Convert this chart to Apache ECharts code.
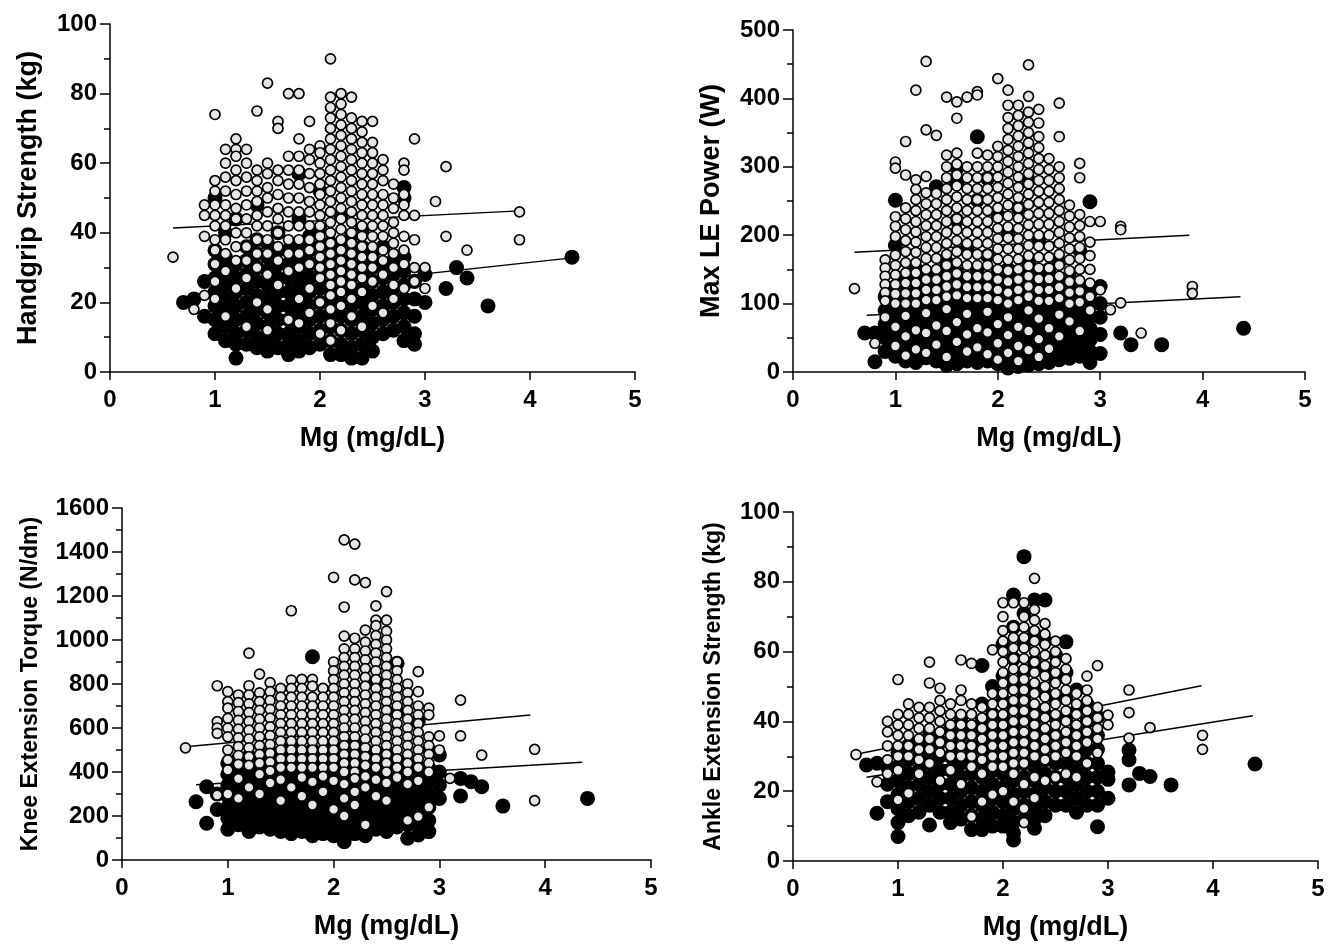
<!doctype html>
<html lang="en">
<head>
  <meta charset="UTF-8">
  <title>Mg vs muscle performance</title>
  <style>
    html, body { margin: 0; padding: 0; background: #fff; }
  </style>
</head>
<body>
<div id="main" style="width: 1339px;height: 946px"></div>
<script src="https://cdn.jsdelivr.net/npm/echarts@6/dist/echarts.min.js"></script>
<script>
    // each row: [Mg value, [y values in that Mg column]]
    // open circles (men) and filled circles (women)
    const gripMen = [
        [0.6, [33]], [0.8, [18]], [0.9, [48, 45, 39, 22]],
        [1.0, [74, 55, 52, 48, 45, 42, 38, 35, 31, 26, 21]],
        [1.1, [64, 60, 56, 52, 48, 45, 42, 38, 34, 29, 16]],
        [1.2, [67, 64, 62, 58, 55, 51, 47, 44, 40, 36, 32, 24]],
        [1.3, [64, 60, 56, 52, 48, 44, 40, 36, 32, 27, 13]],
        [1.4, [75, 58, 55, 52, 49, 45, 42, 38, 34, 30, 20]],
        [1.5, [83, 60, 57, 53, 50, 46, 42, 38, 34, 28, 18, 12]],
        [1.6, [72, 70, 58, 55, 51, 47, 44, 40, 36, 32, 25]],
        [1.7, [80, 62, 58, 54, 50, 46, 42, 38, 34, 29, 15]],
        [1.8, [80, 67, 62, 58, 54, 50, 46, 42, 38, 34, 30, 21, 14]],
        [1.9, [72, 64, 61, 57, 53, 49, 46, 42, 38, 35, 31, 24, 17]],
        [2.0, [65, 63, 60, 57, 54, 51, 48, 45, 42, 39, 36, 33, 30, 27, 20, 11]],
        [2.1, [90, 79, 76, 73, 70, 67, 64, 61, 58, 55, 52, 49, 46, 43, 40, 37, 34, 31, 28, 25, 22, 18, 14, 9]],
        [2.2, [80, 77, 74, 71, 68, 65, 62, 59, 56, 53, 50, 47, 44, 41, 38, 35, 32, 29, 26, 23, 19, 12]],
        [2.3, [79, 73, 70, 67, 64, 61, 58, 55, 52, 49, 46, 43, 40, 37, 34, 31, 28, 25, 21, 16]],
        [2.4, [72, 69, 66, 63, 60, 57, 54, 51, 48, 45, 42, 39, 36, 33, 30, 27, 23, 13]],
        [2.5, [72, 66, 63, 60, 57, 54, 51, 48, 45, 42, 39, 36, 33, 30, 26, 19]],
        [2.6, [61, 58, 55, 51, 48, 45, 42, 39, 35, 32, 28, 17]],
        [2.7, [54, 50, 47, 43, 40, 37, 34, 30, 25, 21]],
        [2.8, [60, 58, 51, 48, 45, 39, 35, 31, 24]],
        [2.9, [67, 45, 38, 30, 26]],
        [3.0, [30, 24]], [3.1, [49]], [3.2, [59, 39]], [3.4, [35]], [3.9, [46, 38]]
    ];
    const gripWomen = [
        [0.7, [20]], [0.8, [21]], [0.9, [26, 16]],
        [1.0, [50, 35, 31, 27, 23, 19, 15, 11]],
        [1.1, [40, 33, 29, 25, 21, 17, 13, 9]],
        [1.2, [44, 31, 27, 23, 19, 15, 11, 8, 4]],
        [1.3, [36, 32, 28, 24, 20, 16, 12, 8]],
        [1.4, [48, 38, 34, 30, 26, 22, 18, 14, 10, 7]],
        [1.5, [37, 33, 29, 25, 21, 17, 13, 9, 6]],
        [1.6, [40, 35, 31, 27, 23, 19, 15, 11, 7]],
        [1.7, [35, 31, 27, 23, 19, 15, 11, 8, 5]],
        [1.8, [57, 44, 37, 33, 29, 25, 21, 17, 13, 9, 6]],
        [1.9, [39, 35, 31, 27, 23, 19, 15, 11, 7]],
        [2.0, [52, 41, 36, 32, 28, 24, 20, 16, 12, 8]],
        [2.1, [37, 33, 29, 25, 21, 17, 13, 9, 5]],
        [2.2, [45, 36, 32, 28, 24, 20, 16, 12, 8, 5]],
        [2.3, [39, 35, 31, 27, 23, 19, 15, 11, 7, 4]],
        [2.4, [41, 36, 32, 28, 24, 20, 16, 12, 8, 4]],
        [2.5, [34, 30, 26, 22, 18, 14, 10, 6]],
        [2.6, [36, 31, 27, 23, 19, 15, 11]],
        [2.7, [32, 28, 24, 20, 16, 12]],
        [2.8, [53, 50, 33, 29, 25, 21, 17, 13, 9]],
        [2.9, [26, 21, 16, 11, 8]],
        [3.0, [28, 20]], [3.2, [24]], [3.3, [30]], [3.4, [27]], [3.6, [19]], [4.4, [33]]
    ];
    const gripFitMen = [[0.6, 41.4], [3.9, 46.3]];
    const gripFitWomen = [[0.7, 20.7], [4.4, 32.8]];

    const powerMen = [
        [0.6, [122]], [0.8, [42]],
        [0.9, [164, 152, 140, 128, 116, 104, 80]],
        [1.0, [307, 298, 227, 213, 198, 171, 156, 142, 128, 114, 100, 66, 38]],
        [1.1, [337, 288, 240, 224, 208, 192, 176, 160, 145, 130, 115, 100, 82, 52, 24]],
        [1.2, [412, 281, 267, 252, 236, 220, 205, 190, 175, 160, 145, 130, 115, 100, 61, 33]],
        [1.3, [454, 354, 286, 262, 246, 230, 214, 198, 182, 166, 150, 135, 120, 105, 86, 57, 28]],
        [1.4, [346, 261, 246, 230, 214, 198, 182, 166, 150, 135, 120, 105, 68, 40]],
        [1.5, [402, 317, 300, 284, 268, 252, 236, 220, 204, 188, 172, 156, 140, 125, 110, 92, 60, 22]],
        [1.6, [395, 371, 320, 304, 288, 272, 256, 240, 224, 208, 192, 176, 160, 144, 128, 112, 73, 44]],
        [1.7, [402, 300, 284, 268, 252, 236, 220, 204, 188, 172, 156, 140, 124, 108, 85, 55, 30]],
        [1.8, [410, 405, 320, 300, 284, 268, 252, 236, 220, 204, 188, 172, 156, 140, 124, 108, 64, 36]],
        [1.9, [317, 300, 284, 268, 252, 236, 220, 204, 188, 172, 156, 140, 124, 108, 88, 58, 26]],
        [2.0, [429, 330, 315, 300, 285, 270, 255, 240, 225, 210, 195, 180, 165, 150, 135, 120, 105, 70, 42, 18]],
        [2.1, [412, 390, 372, 356, 340, 324, 308, 292, 276, 260, 244, 228, 212, 196, 180, 164, 148, 132, 116, 100, 80, 54, 28]],
        [2.2, [390, 375, 360, 345, 330, 315, 300, 285, 270, 255, 240, 225, 210, 195, 180, 165, 150, 135, 120, 105, 66, 38, 16]],
        [2.3, [449, 403, 380, 365, 350, 335, 320, 305, 290, 275, 260, 245, 230, 215, 200, 185, 170, 155, 140, 125, 110, 90, 60, 32]],
        [2.4, [384, 364, 344, 328, 312, 296, 280, 264, 248, 232, 216, 200, 184, 168, 152, 136, 120, 104, 78, 48, 22]],
        [2.5, [312, 296, 280, 264, 248, 232, 216, 200, 184, 168, 152, 136, 120, 104, 64, 34]],
        [2.6, [393, 344, 300, 284, 268, 252, 236, 220, 204, 188, 172, 156, 140, 124, 108, 84, 52]],
        [2.7, [244, 228, 212, 196, 180, 164, 148, 132, 116, 100, 74]],
        [2.8, [305, 284, 230, 214, 198, 182, 166, 150, 134, 118, 102, 60]],
        [2.9, [220, 190, 170, 150, 130, 110, 90]],
        [3.0, [220, 120]], [3.1, [91]], [3.2, [213, 208, 101]], [3.4, [57]], [3.9, [125, 115]]
    ];
    const powerWomen = [
        [0.7, [57]], [0.8, [57, 15]], [0.9, [110, 90, 70, 50, 30]],
        [1.0, [251, 185, 125, 108, 91, 74, 57, 40, 23]],
        [1.1, [135, 118, 101, 84, 67, 50, 33, 16]],
        [1.2, [150, 132, 115, 98, 81, 64, 47, 30, 14]],
        [1.3, [140, 123, 106, 89, 72, 55, 38, 21]],
        [1.4, [271, 135, 118, 101, 84, 67, 50, 33, 16]],
        [1.5, [160, 142, 125, 108, 91, 74, 57, 40, 23, 10]],
        [1.6, [298, 276, 222, 145, 128, 111, 94, 77, 60, 43, 26, 12]],
        [1.7, [180, 135, 118, 101, 84, 67, 50, 33, 16]],
        [1.8, [344, 251, 150, 132, 115, 98, 81, 64, 47, 30, 14]],
        [1.9, [283, 170, 135, 118, 101, 84, 67, 50, 33, 16]],
        [2.0, [230, 145, 128, 111, 94, 77, 60, 43, 26, 12]],
        [2.1, [200, 150, 132, 115, 98, 81, 64, 47, 30, 14, 6]],
        [2.2, [240, 140, 123, 106, 89, 72, 55, 38, 21, 8]],
        [2.3, [280, 160, 142, 125, 108, 91, 74, 57, 40, 23, 10]],
        [2.4, [190, 145, 128, 111, 94, 77, 60, 43, 26, 12]],
        [2.5, [150, 132, 115, 98, 81, 64, 47, 30, 14]],
        [2.6, [161, 135, 118, 101, 84, 67, 50, 33, 18]],
        [2.7, [140, 122, 105, 88, 71, 54, 37, 20]],
        [2.8, [178, 125, 108, 91, 74, 57, 40, 23]],
        [2.9, [249, 115, 98, 81, 64, 47, 30, 14]],
        [3.0, [125, 100, 80, 55, 27]],
        [3.2, [57]], [3.3, [40]], [3.6, [40]], [4.4, [64]]
    ];
    const powerFitMen = [[0.6, 175], [3.87, 200]];
    const powerFitWomen = [[0.72, 83], [4.37, 110]];

    const kneeMen = [
        [0.6, [510]],
        [0.9, [792, 629, 600, 576, 295]],
        [1.0, [765, 720, 690, 644, 599, 560, 500, 455, 409, 300]],
        [1.1, [750, 715, 675, 635, 595, 555, 515, 475, 435, 370, 280]],
        [1.2, [940, 792, 750, 710, 670, 630, 590, 550, 510, 470, 430, 330]],
        [1.3, [845, 760, 720, 680, 640, 600, 560, 520, 480, 440, 390, 300]],
        [1.4, [806, 765, 725, 685, 645, 605, 565, 525, 485, 445, 405, 350]],
        [1.5, [780, 740, 700, 660, 620, 580, 540, 500, 460, 420, 365, 270]],
        [1.6, [1133, 818, 780, 740, 700, 660, 620, 580, 540, 500, 460, 420, 330]],
        [1.7, [821, 780, 740, 700, 660, 620, 580, 540, 500, 460, 420, 375, 290]],
        [1.8, [821, 790, 740, 700, 660, 620, 580, 540, 500, 460, 420, 355, 250]],
        [1.9, [780, 740, 700, 660, 620, 580, 540, 500, 460, 420, 380, 310]],
        [2.0, [1285, 900, 860, 820, 780, 740, 700, 660, 620, 580, 540, 500, 460, 420, 360, 230]],
        [2.1, [1455, 1150, 1018, 960, 920, 880, 840, 800, 760, 720, 680, 640, 600, 560, 520, 480, 440, 400, 345, 280, 200]],
        [2.2, [1436, 1273, 1008, 960, 920, 880, 840, 800, 760, 720, 680, 640, 600, 560, 520, 480, 440, 400, 370, 310, 250]],
        [2.3, [1261, 1045, 990, 950, 910, 870, 830, 790, 750, 710, 670, 630, 590, 550, 510, 470, 430, 380, 330, 160]],
        [2.4, [1155, 1090, 1065, 1020, 980, 940, 900, 860, 820, 780, 740, 700, 660, 620, 580, 540, 500, 460, 420, 365, 290]],
        [2.5, [1220, 1090, 1040, 1000, 960, 920, 880, 840, 800, 760, 720, 680, 640, 600, 560, 520, 480, 440, 400, 350, 270]],
        [2.6, [900, 860, 820, 780, 740, 700, 660, 620, 580, 540, 500, 460, 420, 375]],
        [2.7, [800, 760, 720, 680, 640, 600, 560, 520, 480, 440, 400, 345, 180]],
        [2.8, [856, 765, 700, 660, 620, 580, 540, 500, 460, 420, 360, 197]],
        [2.9, [690, 660, 560, 520, 480, 440, 400, 240]],
        [3.0, [564, 500]], [3.1, [371]], [3.2, [727, 564]], [3.4, [477]], [3.9, [503, 270]]
    ];
    const kneeWomen = [
        [0.7, [265]], [0.8, [333, 167]], [0.9, [300, 230]],
        [1.0, [440, 390, 340, 290, 240, 190, 140]],
        [1.1, [460, 410, 360, 310, 260, 210, 160]],
        [1.2, [470, 420, 370, 320, 270, 220, 170, 130]],
        [1.3, [450, 400, 350, 300, 250, 200, 150]],
        [1.4, [490, 440, 390, 340, 290, 240, 190, 140]],
        [1.5, [470, 420, 370, 320, 270, 220, 170, 130]],
        [1.6, [520, 460, 410, 360, 310, 260, 210, 160, 120]],
        [1.7, [480, 430, 380, 330, 280, 230, 180, 130]],
        [1.8, [924, 500, 450, 400, 350, 300, 250, 200, 150, 110]],
        [1.9, [470, 420, 370, 320, 270, 220, 170, 120]],
        [2.0, [520, 460, 410, 360, 310, 260, 210, 160, 110]],
        [2.1, [490, 440, 390, 340, 290, 240, 190, 140, 83]],
        [2.2, [530, 470, 420, 370, 320, 270, 220, 170, 120]],
        [2.3, [500, 450, 400, 350, 300, 250, 200, 150, 110]],
        [2.4, [806, 490, 440, 390, 340, 290, 240, 190, 140]],
        [2.5, [480, 430, 380, 330, 280, 230, 180, 130]],
        [2.6, [894, 674, 450, 400, 350, 300, 250, 200, 150]],
        [2.7, [460, 410, 360, 310, 260, 210, 160, 99]],
        [2.8, [629, 420, 370, 320, 270, 220, 170, 114]],
        [2.9, [500, 418, 360, 300, 240, 180, 129]],
        [3.0, [477, 400, 340, 280]],
        [3.2, [371, 291]], [3.3, [356]], [3.4, [333]], [3.6, [245]], [4.4, [280]]
    ];
    const kneeFitMen = [[0.6, 515], [3.86, 659]];
    const kneeFitWomen = [[0.7, 342], [4.35, 444]];

    const ankleMen = [
        [0.6, [30.5]], [0.8, [22.7]],
        [0.9, [40, 37, 33, 29, 25]],
        [1.0, [52, 42, 39, 36, 33, 30, 26, 17.5]],
        [1.1, [45, 42, 39, 36, 33, 30, 19.4]],
        [1.2, [44, 41, 38, 35, 32, 29, 25]],
        [1.3, [57, 51, 44, 41, 38, 35, 32, 28]],
        [1.4, [49.5, 46, 43, 40, 37, 34, 31, 23]],
        [1.5, [45, 42, 39, 36, 33, 30, 26]],
        [1.6, [57.6, 49, 46, 42, 39, 36, 33, 30, 22]],
        [1.7, [56.6, 45, 42, 39, 36, 33, 30, 27, 12.7]],
        [1.8, [44, 41, 38, 35, 32, 29, 25, 17]],
        [1.9, [60.5, 48, 45, 42, 39, 36, 33, 30, 27, 19]],
        [2.0, [74, 70, 66, 63, 60, 57, 54, 51, 48, 45, 42, 39, 36, 33, 30, 27, 20]],
        [2.1, [74, 67, 64, 61, 58, 55, 52, 49, 46, 43, 40, 37, 34, 31, 28, 25, 17]],
        [2.2, [74, 70, 67, 64, 61, 58, 55, 52, 49, 46, 43, 40, 37, 34, 31, 28, 22, 15, 11]],
        [2.3, [81, 72, 69, 66, 63, 60, 57, 54, 51, 48, 45, 42, 39, 36, 33, 30, 24, 18]],
        [2.4, [68, 65, 62, 59, 56, 53, 50, 47, 44, 41, 38, 35, 32, 29, 23]],
        [2.5, [63, 60, 57, 54, 51, 48, 45, 42, 39, 36, 33, 30, 24]],
        [2.6, [58, 55, 52, 49, 46, 43, 40, 37, 34, 31, 25]],
        [2.7, [48, 45, 42, 39, 36, 33, 30, 24]],
        [2.8, [53, 49, 46, 43, 40, 37, 34, 28]],
        [2.9, [56, 44, 41, 38, 35, 31]],
        [3.0, [41.8, 39]], [3.2, [49, 42.5, 35.2]], [3.4, [38.2]], [3.9, [36, 32]]
    ];
    const ankleWomen = [
        [0.7, [27.5]], [0.8, [28, 13.7]], [0.9, [27, 22, 17]],
        [1.0, [31, 27, 23, 19, 15, 11, 7]],
        [1.1, [33, 29, 25, 21, 17, 13]],
        [1.2, [34, 30, 26, 22, 18, 14]],
        [1.3, [36, 32, 28, 24, 20, 16, 10.3]],
        [1.4, [34, 30, 26, 22, 18, 14]],
        [1.5, [38, 34, 30, 26, 22, 18, 14, 11]],
        [1.6, [40, 36, 32, 28, 24, 20, 16, 12]],
        [1.7, [37, 33, 29, 25, 21, 17, 13, 9]],
        [1.8, [56, 45, 40, 36, 32, 28, 24, 20, 16, 12, 9]],
        [1.9, [50, 42, 38, 34, 30, 26, 22, 18, 14, 10]],
        [2.0, [62, 53, 46, 41, 37, 33, 29, 25, 21, 17, 13, 10]],
        [2.1, [76.2, 67, 58, 50, 44, 39, 35, 31, 27, 23, 19, 15, 11, 8, 6]],
        [2.2, [87.2, 71, 62, 54, 47, 41, 36, 32, 28, 24, 20, 16, 12]],
        [2.3, [74.8, 65, 57, 50, 44, 39, 35, 31, 27, 23, 19, 15, 12, 9.4]],
        [2.4, [74.8, 63, 55, 48, 42, 37, 33, 29, 25, 21, 17, 13]],
        [2.5, [59, 52, 46, 41, 36, 32, 28, 24, 20, 16]],
        [2.6, [62.8, 54, 47, 41, 36, 32, 28, 24, 20, 16]],
        [2.7, [49, 43, 38, 34, 30, 26, 22, 18, 14]],
        [2.8, [45, 40, 36, 32, 28, 24, 20, 16]],
        [2.9, [41.3, 36, 32, 28, 24, 20, 16, 9.8]],
        [3.0, [25.5, 23.4, 18]],
        [3.2, [31.8, 29, 21.8]], [3.3, [25.1]], [3.4, [24.2]], [3.6, [21.8]], [4.4, [27.8]]
    ];
    const ankleFitMen = [[0.6, 30.6], [3.89, 50.2]];
    const ankleFitWomen = [[0.7, 24], [4.38, 41.6]];

    const xTicks = [0, 5, 1];
    const yTitles = ['Handgrip Strength (kg)', 'Max LE Power (W)', 'Knee Extension Torque (N/dm)', 'Ankle Extension Strength (kg)'];
    const yRanges = [[0, 100, 20], [0, 500, 100], [0, 1600, 200], [0, 100, 20]];

    const font = 'Liberation Sans, Arial, Helvetica, sans-serif';

    function pts(cols) {
        return cols.flatMap(c => c[1].map(y => [c[0], y]));
    }

    const grids = [
        {left: 110, top: 24, width: 525, height: 348},
        {left: 793, top: 30, width: 512, height: 342},
        {left: 122, top: 508, width: 529, height: 352},
        {left: 793, top: 512, width: 525, height: 349}
    ];
    const yNameGap = [68, 68, 80, 68];
    const yNameSize = [27, 27, 23, 23];

    const axisLine = {show: true, onZero: false, lineStyle: {color: '#000', width: 1.5}};

    const xAxes = grids.map((g, i) => ({
        type: 'value', gridIndex: i,
        min: xTicks[0], max: xTicks[1], interval: xTicks[2],
        name: 'Mg (mg/dL)', nameLocation: 'middle', nameGap: 53,
        nameTextStyle: {fontFamily: font, fontWeight: 'bold', fontSize: 27, color: '#000'},
        axisLine: axisLine,
        axisTick: {show: true, inside: false, length: 8, lineStyle: {color: '#000', width: 1.5}},
        axisLabel: {margin: 16, fontFamily: font, fontWeight: 'bold', fontSize: 24, color: '#000',
            formatter: v => String(v)},
        splitLine: {show: false}
    }));
    const yAxes = grids.map((g, i) => ({
        type: 'value', gridIndex: i,
        min: yRanges[i][0], max: yRanges[i][1], interval: yRanges[i][2],
        name: yTitles[i], nameLocation: 'middle', nameGap: yNameGap[i],
        nameTextStyle: {fontFamily: font, fontWeight: 'bold', fontSize: yNameSize[i], color: '#000'},
        axisLine: axisLine,
        axisTick: {show: true, inside: false, length: 10, lineStyle: {color: '#000', width: 1.5}},
        minorTick: {show: true, splitNumber: 2, length: 6, lineStyle: {color: '#000', width: 1.5}},
        axisLabel: {margin: 13, fontFamily: font, fontWeight: 'bold', fontSize: 24, color: '#000',
            formatter: v => String(v)},
        splitLine: {show: false},
        minorSplitLine: {show: false}
    }));

    const panels = [
        [gripMen, gripWomen, gripFitMen, gripFitWomen],
        [powerMen, powerWomen, powerFitMen, powerFitWomen],
        [kneeMen, kneeWomen, kneeFitMen, kneeFitWomen],
        [ankleMen, ankleWomen, ankleFitMen, ankleFitWomen]
    ];

    const series = [];
    panels.forEach((p, i) => {
        [p[2], p[3]].forEach(fit => series.push({
            type: 'line', xAxisIndex: i, yAxisIndex: i, data: fit,
            showSymbol: false, symbol: 'none', silent: true, z: 1,
            lineStyle: {color: '#000', width: 1.4}
        }));
        series.push({
            type: 'scatter', xAxisIndex: i, yAxisIndex: i, data: pts(p[1]),
            symbol: 'circle', symbolSize: 15, z: 2, silent: true,
            itemStyle: {color: '#000', opacity: 1}
        });
        series.push({
            type: 'scatter', xAxisIndex: i, yAxisIndex: i, data: pts(p[0]),
            symbol: 'circle', symbolSize: 10, z: 3, silent: true,
            itemStyle: {color: '#e6e6e6', borderColor: '#000', borderWidth: 1.7, opacity: 1}
        });
    });

    let myCharts = echarts.init(document.querySelector('#main'))
    myCharts.setOption({
        animation: false,
        backgroundColor: '#fff',
        grid: grids,
        xAxis: xAxes,
        yAxis: yAxes,
        series: series
    })
</script>
</body>
</html>
